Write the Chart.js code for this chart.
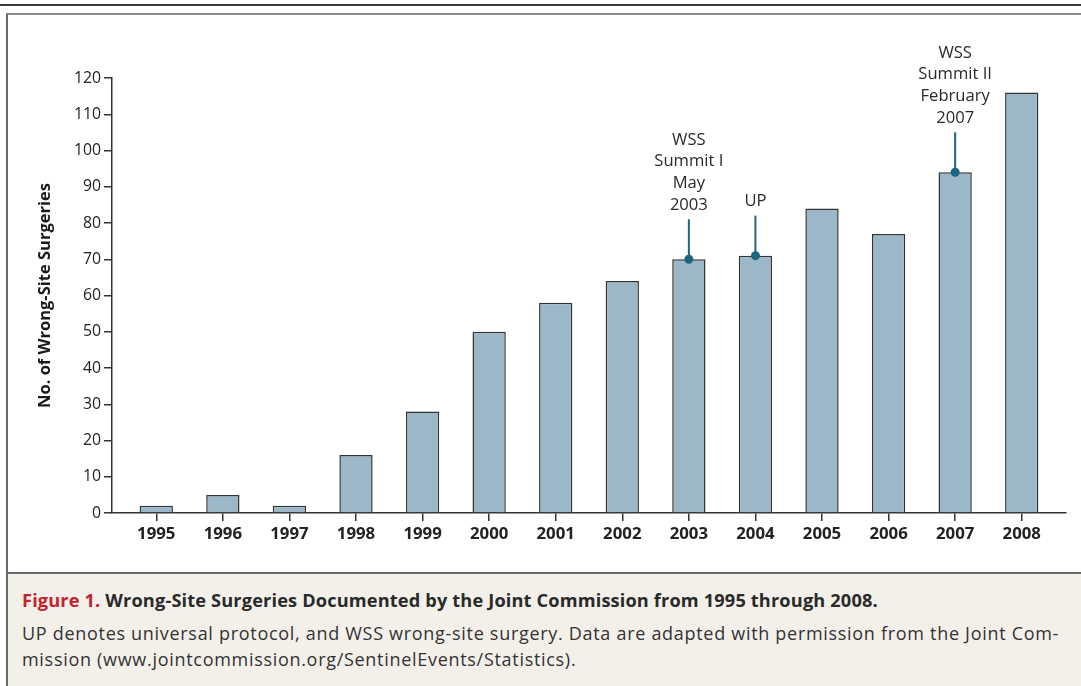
<!DOCTYPE html>
<html>
<head>
<meta charset="utf-8">
<script src="https://cdn.jsdelivr.net/npm/chart.js@4"></script>
<style>
  html, body { margin: 0; padding: 0; background: #fff; }
  #wrap { position: relative; width: 1081px; height: 686px; overflow: hidden; background: #fff; font-family: "Open Sans", sans-serif; }
  #topline { position: absolute; left: 0; top: 4px; width: 1081px; height: 2px; background: #3a3a3a; }
  #box { position: absolute; left: 6px; top: 13px; width: 1075px; height: 673px; border-left: 2px solid #6a6a6a; border-top: 2px solid #8c8c8c; box-sizing: border-box; }
  #caption { position: absolute; left: 8px; top: 572px; width: 1073px; height: 114px; background: #f3f0ea; border-top: 2px solid #6a6a6a; box-sizing: border-box; }
  #cap1 { position: absolute; left: 14px; top: 14px; font-size: 18.2px; font-weight: 700; color: #2a2a2a; white-space: nowrap; letter-spacing: 0.15px; }
  #cap1 span { color: #c4222f; }
  .capl { position: absolute; left: 14px; font-size: 18px; color: #333; white-space: nowrap; letter-spacing: 0.7px; }
  #c { position: absolute; left: 0; top: 0; }
</style>
</head>
<body>
<div id="wrap">
  <div id="topline"></div>
  <div id="box"></div>
  <div id="caption">
    <div id="cap1"><span>Figure 1.</span> Wrong-Site Surgeries Documented by the Joint Commission from 1995 through 2008.</div>
    <div class="capl" style="top:47px">UP denotes universal protocol, and WSS wrong-site surgery. Data are adapted with permission from the Joint Com-</div>
    <div class="capl" style="top:73px">mission (www.jointcommission.org/SentinelEvents/Statistics).</div>
  </div>
  <canvas id="c" width="1081" height="686"></canvas>
</div>
<script>
const years = [1995, 1996, 1997, 1998, 1999, 2000, 2001, 2002, 2003, 2004, 2005, 2006, 2007, 2008];
const surgeries = [2, 5, 2, 16, 28, 50, 58, 64, 70, 71, 84, 77, 94, 116];
const yTicks = [0, 10, 20, 30, 40, 50, 60, 70, 80, 90, 100, 110, 120];
const annotationYears = [2003, 2004, 2007];
const annotationTexts = [["WSS", "Summit I", "May", "2003"], ["UP"], ["WSS", "Summit II", "February", "2007"]];

const FONT = '"Open Sans", sans-serif';
const TEAL = '#1c6680';

const annotPlugin = {
  id: 'annot',
  afterDatasetsDraw(chart) {
    const ctx = chart.ctx;
    const meta = chart.getDatasetMeta(0);
    ctx.save();
    annotationYears.forEach((yr, k) => {
      const idx = years.indexOf(yr);
      const bar = meta.data[idx];
      const x = bar.x, y = bar.y;
      ctx.strokeStyle = TEAL;
      ctx.lineWidth = 2;
      ctx.beginPath();
      ctx.moveTo(x, y);
      ctx.lineTo(x, y - 40);
      ctx.stroke();
      ctx.fillStyle = TEAL;
      ctx.beginPath();
      ctx.arc(x, y, 4.5, 0, Math.PI * 2);
      ctx.fill();
      ctx.fillStyle = '#2a2a2a';
      ctx.font = '16.6px ' + FONT;
      ctx.textAlign = 'center';
      ctx.textBaseline = 'middle';
      const lines = annotationTexts[k];
      lines.forEach((t, i) => {
        const ly = y - 40 - 14 - (lines.length - 1 - i) * 21.8;
        ctx.fillText(t, x, ly);
      });
    });
    ctx.restore();
  }
};

new Chart(document.getElementById('c'), {
  type: 'bar',
  data: {
    datasets: [{
      data: years.map((yr, i) => ({ x: yr, y: surgeries[i] })),
      backgroundColor: '#9bb7c8',
      borderColor: '#333',
      borderWidth: 1.5,
      barPercentage: 0.5,
      categoryPercentage: 1.0
    }]
  },
  options: {
    responsive: false,
    animation: false,
    events: [],
    layout: { padding: { left: 0, right: 15, top: 78, bottom: 123 } },
    plugins: { legend: { display: false }, tooltip: { enabled: false } },
    scales: {
      x: {
        type: 'linear',
        offset: false,
        min: years[0] - 0.665,
        max: years[years.length - 1] + 0.665,
        afterBuildTicks: s => { s.ticks = years.map(v => ({ value: v })); },
        afterFit: s => { s.height = 50; },
        grid: { display: true, offset: false, drawOnChartArea: false, drawTicks: true, tickLength: 8, color: '#333', lineWidth: 1.5 },
        border: { display: true, color: '#333', width: 1.5 },
        ticks: {
          color: '#222',
          padding: 3,
          font: { family: FONT, size: 16.8, weight: 'bold' },
          callback: v => String(v),
          maxRotation: 0,
          autoSkip: false
        }
      },
      y: {
        min: 0,
        max: 120,
        afterBuildTicks: s => { s.ticks = yTicks.map(v => ({ value: v })); },
        afterFit: s => { s.width = 112; },
        grid: { display: true, drawOnChartArea: false, drawTicks: true, tickLength: 8, color: '#333', lineWidth: 1.5 },
        border: { display: true, color: '#333', width: 1.5 },
        ticks: { color: '#222', padding: 3, font: { family: FONT, size: 15.8 } },
        title: {
          display: true,
          text: 'No. of Wrong-Site Surgeries',
          color: '#1a1a1a',
          font: { family: FONT, size: 16.5, weight: 'bold' },
          padding: { top: 35, bottom: 0 }
        }
      }
    }
  },
  plugins: [annotPlugin]
});
</script>
</body>
</html>
